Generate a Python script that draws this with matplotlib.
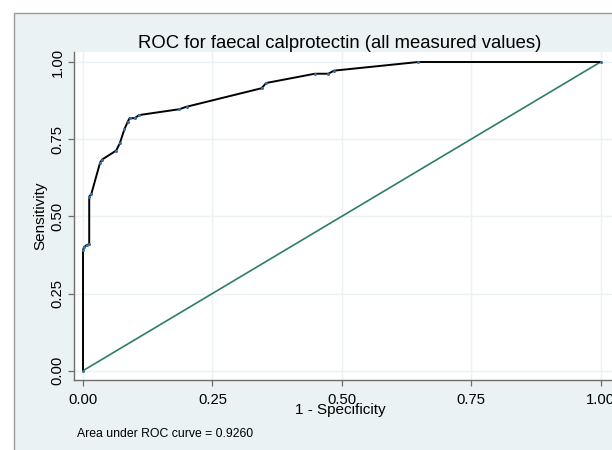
import matplotlib
matplotlib.use("Agg")
import matplotlib.pyplot as plt
from matplotlib.patches import Rectangle

plt.rcParams['font.family'] = ['Liberation Sans', 'DejaVu Sans']

# ROC curve points (1 - specificity, sensitivity)
fpr = [0, 0, 0.002, 0.007, 0.012, 0.012, 0.016, 0.033, 0.037, 0.064, 0.071,
       0.080, 0.086, 0.090, 0.100, 0.108, 0.186, 0.200, 0.345, 0.354, 0.448,
       0.474, 0.485, 0.648, 1.0]
tpr = [0, 0.391, 0.400, 0.407, 0.410, 0.564, 0.572, 0.674, 0.684, 0.713, 0.736,
       0.782, 0.805, 0.818, 0.818, 0.828, 0.847, 0.855, 0.915, 0.932, 0.962,
       0.962, 0.972, 1.0, 1.0]
ref_x = [0, 1]
ref_y = [0, 1]
ticks = [0, 0.25, 0.5, 0.75, 1.0]
tick_labels = ["0.00", "0.25", "0.50", "0.75", "1.00"]
title = "ROC for faecal calprotectin (all measured values)"
xlabel = "1 - Specificity"
ylabel = "Sensitivity"
note = "Area under ROC curve = 0.9260"

W, H = 612, 450
fig = plt.figure(figsize=(W / 100, H / 100), dpi=100)
fig.patch.set_facecolor("white")

bg = "#EAF2F3"
# outer graph region with border
fig.patches.append(Rectangle((14 / W, -0.1), 2.0, (H - 13) / H + 0.1,
                             transform=fig.transFigure, facecolor=bg,
                             edgecolor="#9a9a9a", linewidth=1.0, zorder=-10))

left_px, top_px, bottom_px = 74, 52, 380
x0_px, x1_px = 83, 600.5
ppu = x1_px - x0_px
xlo = -(x0_px - left_px) / ppu
right_px = 625
xhi = (right_px - x0_px) / ppu
y0_px, y1_px = 370.7, 62
ppuy = y0_px - y1_px
ylo = -(bottom_px - y0_px) / ppuy
yhi = 1 + (y1_px - top_px) / ppuy

ax = fig.add_axes([left_px / W, (H - bottom_px) / H,
                   (right_px - left_px) / W, (bottom_px - top_px) / H])
ax.set_zorder(1)
ax.set_facecolor("white")
ax.set_xlim(xlo, xhi)
ax.set_ylim(ylo, yhi)

for s in ["top", "right"]:
    ax.spines[s].set_visible(False)
for s in ["left", "bottom"]:
    ax.spines[s].set_color("#6e6e6e")
    ax.spines[s].set_linewidth(1.0)

ax.set_xticks(ticks)
ax.set_xticklabels(tick_labels)
ax.set_yticks(ticks)
ax.set_yticklabels(tick_labels, rotation=90, va="center")
ax.tick_params(direction="out", length=4.5, width=0.9, color="#6e6e6e",
               labelsize=10.7)
ax.tick_params(axis="x", pad=5)
ax.tick_params(axis="y", pad=2.2)
ax.grid(True, color=bg, linewidth=1.0)
ax.set_axisbelow(True)

ax.plot(ref_x, ref_y, color="#2E7D6B", linewidth=1.2, zorder=2)
ax.plot(fpr, tpr, color="black", linewidth=1.4, zorder=3,
        marker="o", markersize=1.2, markerfacecolor="#3b6ea5",
        markeredgecolor="#3b6ea5")

fig.text(340 / W, 1 - 48.3 / H, title, ha="center", va="baseline", fontsize=13.3)
fig.text(340 / W, 1 - 414.3 / H, xlabel, ha="center", va="baseline", fontsize=11)
fig.text(40 / W, 1 - 216 / H, ylabel, ha="center", va="center", fontsize=11,
         rotation=90)
fig.text(77 / W, 1 - 437 / H, note, ha="left", va="baseline", fontsize=8.8)

fig.savefig("out.png", dpi=100)
